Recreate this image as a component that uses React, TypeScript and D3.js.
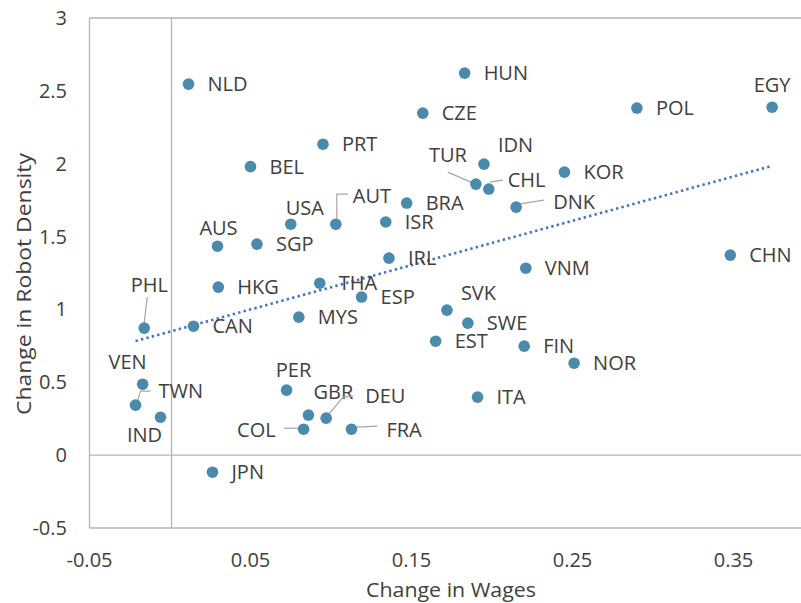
import React from "react";
import * as d3 from "d3";

// country codes and their values (change in wages, change in robot density)
const countries = ["NLD", "HUN", "CZE", "POL", "EGY", "PRT", "BEL", "IDN", "TUR", "CHL", "KOR", "BRA", "DNK", "USA", "AUT", "ISR", "AUS", "SGP", "IRL", "CHN", "VNM", "HKG", "THA", "ESP", "SVK", "PHL", "CAN", "MYS", "SWE", "EST", "FIN", "NOR", "VEN", "TWN", "IND", "PER", "GBR", "DEU", "COL", "FRA", "JPN", "ITA"];
const wageChange = [0.0115, 0.183, 0.157, 0.29, 0.374, 0.095, 0.05, 0.195, 0.19, 0.198, 0.245, 0.147, 0.215, 0.075, 0.103, 0.134, 0.0295, 0.054, 0.136, 0.348, 0.221, 0.03, 0.093, 0.119, 0.172, -0.016, 0.0146, 0.08, 0.185, 0.165, 0.22, 0.251, -0.017, -0.0214, -0.0059, 0.0724, 0.086, 0.097, 0.083, 0.1127, 0.0264, 0.191];
const robotChange = [2.546, 2.622, 2.347, 2.382, 2.388, 2.134, 1.98, 1.997, 1.86, 1.826, 1.942, 1.73, 1.702, 1.585, 1.585, 1.6, 1.434, 1.448, 1.352, 1.373, 1.283, 1.153, 1.18, 1.085, 0.995, 0.872, 0.885, 0.947, 0.906, 0.782, 0.748, 0.631, 0.487, 0.343, 0.26, 0.446, 0.275, 0.254, 0.178, 0.178, -0.117, 0.398];

const xTicks = [-0.05, 0.05, 0.15, 0.25, 0.35];
const yTicks = [-0.5, 0, 0.5, 1, 1.5, 2, 2.5, 3];

// label placement (pixel offsets from the dot), default is to the right
type Place = { dx: number; dy: number; anchor?: string; leader?: [number, number][] };
const labelPlace: Record<string, Place> = {
  USA: { dx: 14, dy: -16, anchor: "middle" },
  AUS: { dx: 1, dy: -18, anchor: "middle" },
  AUT: { dx: 17, dy: -28, leader: [[1, -3], [1, -30], [12, -30]] },
  PER: { dx: 7, dy: -20, anchor: "middle" },
  EGY: { dx: 0, dy: -22, anchor: "middle" },
  IDN: { dx: 14, dy: -19 },
  SVK: { dx: 14, dy: -17 },
  GBR: { dx: 5, dy: -23 },
  VEN: { dx: -15, dy: -22, anchor: "middle" },
  IND: { dx: -16, dy: 18, anchor: "middle" },
  PHL: { dx: 5, dy: -43, anchor: "middle", leader: [[3, -31], [0, -6]] },
  TWN: { dx: 23, dy: -14, leader: [[2, -4], [5, -14], [15, -14]] },
  TUR: { dx: -28, dy: -29, anchor: "middle", leader: [[-28, -12], [-3, -1]] },
  CHL: { dx: 19, dy: -9, leader: [[1, -7], [14, -9]] },
  DNK: { dx: 37, dy: -5, leader: [[2, -3], [28, -7]] },
  DEU: { dx: 39, dy: -22, leader: [[1, -2], [17, -21], [27, -22]] },
  COL: { dx: -28, dy: 1, anchor: "end", leader: [[-20, -1], [-5, -1]] },
  FRA: { dx: 35, dy: 1, leader: [[5, -2], [26, -3]] },
};

const W = 801;
const H = 603;
const FONT = "'Open Sans', 'Noto Sans', sans-serif";
const TEXT = "#404040";
const GRID = "#b4b4b4";
const DOT = "#4a8aab";

export default function App() {
  const x = d3.scaleLinear().domain([-0.05, 0.45]).range([89.5, 894.5]);
  const y = d3.scaleLinear().domain([-0.5, 3]).range([528, 18]);

  const points = countries.map((c, i) => ({ c, wx: wageChange[i], ry: robotChange[i] }));

  // linear trendline (least squares) across the data range
  const mx = d3.mean(wageChange) as number;
  const my = d3.mean(robotChange) as number;
  const sxy = d3.sum(points, (p) => (p.wx - mx) * (p.ry - my));
  const sxx = d3.sum(points, (p) => (p.wx - mx) ** 2);
  const slope = sxy / sxx;
  const icpt = my - slope * mx;
  const [x0, x1] = d3.extent(wageChange) as [number, number];
  const trend = d3.line<number>().x((v) => x(v)).y((v) => y(icpt + slope * v))([x0, x1]);

  return (
    <svg width={W} height={H} style={{ position: "absolute", left: 0, top: 0, background: "#fff" }} fontFamily={FONT}>
      {/* plot frame + zero lines */}
      <line x1={x(-0.05)} x2={W} y1={y(3)} y2={y(3)} stroke={GRID} strokeWidth={1.3} />
      <line x1={x(-0.05)} x2={W} y1={y(-0.5)} y2={y(-0.5)} stroke={GRID} strokeWidth={1.3} />
      <line x1={x(-0.05)} x2={x(-0.05)} y1={y(3)} y2={y(-0.5)} stroke={GRID} strokeWidth={1.3} />
      <line x1={x(0) + 1.5} x2={x(0) + 1.5} y1={y(3)} y2={y(-0.5)} stroke={GRID} strokeWidth={1.3} />
      <line x1={x(-0.05)} x2={W} y1={y(0)} y2={y(0)} stroke={GRID} strokeWidth={1.3} />

      {yTicks.map((t) => (
        <text key={t} x={67} y={y(t) + 7} textAnchor="end" fontSize={20} fill={TEXT}>{String(t)}</text>
      ))}
      {xTicks.map((t) => (
        <text key={t} x={x(t)} y={567} textAnchor="middle" fontSize={20} fill={TEXT}>{String(t)}</text>
      ))}

      <text x={451} y={597} textAnchor="middle" fontSize={20} textLength={170} lengthAdjust="spacingAndGlyphs" fill={TEXT}>Change in Wages</text>
      <text transform="translate(31,284) rotate(-90)" textAnchor="middle" fontSize={20} textLength={262} lengthAdjust="spacingAndGlyphs" fill={TEXT}>Change in Robot Density</text>

      {trend && <path d={trend} fill="none" stroke="#4472c4" strokeWidth={2.6} strokeDasharray="2.4 3.2" />}

      {points.map((p) => {
        const cx = x(p.wx);
        const cy = y(p.ry);
        const pl = labelPlace[p.c] ?? { dx: 19, dy: 0 };
        return (
          <g key={p.c}>
            {pl.leader && (
              <polyline
                points={pl.leader.map(([a, b]) => `${cx + a},${cy + b}`).join(" ")}
                fill="none"
                stroke="#a6a6a6"
                strokeWidth={1.2}
              />
            )}
            <circle cx={cx} cy={cy} r={5.8} fill={DOT} />
            <text x={cx + pl.dx} y={cy + pl.dy + 7} textAnchor={pl.anchor ?? "start"} fontSize={20} fill={TEXT}>{p.c}</text>
          </g>
        );
      })}
    </svg>
  );
}
